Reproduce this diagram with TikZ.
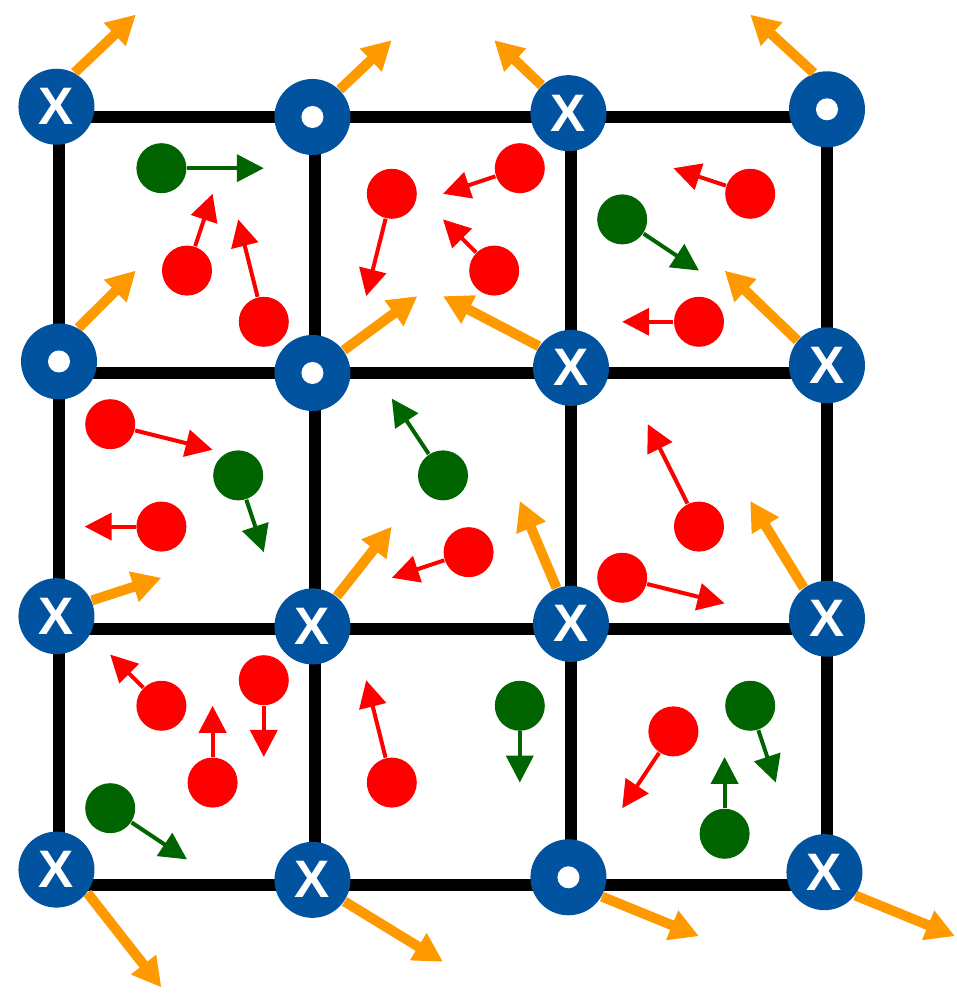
\documentclass[tikz,border=0pt]{standalone}
\usepackage{fontspec}
\setsansfont{Liberation Sans}
\usetikzlibrary{arrows.meta}
\definecolor{siteblue}{RGB}{2,83,159}
\definecolor{spinorange}{RGB}{255,153,0}
\definecolor{darkgreen}{RGB}{0,100,0}

\begin{document}
\begin{tikzpicture}[x=0.256cm, y=-0.256cm,
  site/.style={circle, fill=siteblue, minimum size=7.6mm, inner sep=0pt,
    text=white, font=\sffamily\fontsize{15}{15}\selectfont\bfseries},
  lattice/.style={line width=1.2mm},
  spin/.style={-{Triangle[length=2.9mm,width=3mm]}, spinorange, line width=1mm},
  ball/.style={circle, minimum size=5mm, inner sep=0pt},
  vel/.style={-{Triangle[length=2.7mm,width=2.7mm]}, line width=0.4mm}]
\useasboundingbox (-2.305,-4.570) rectangle (35.04,34.22);

% lattice
\foreach \k in {0,10,20,30} {
  \draw[lattice] (\k,0) -- (\k,30);
  \draw[lattice] (0,\k) -- (30,\k);
}

% sites and their spins (\a = where the spin leaves the site)
\foreach \n/\x/\y/\a/\tx/\ty/\s in {
    n00/-0.1/-0.4/62/3/-4/X, n10/9.9/0/45/13/-3/, n20/19.9/-0.15/134/17/-3/X, n30/30/-0.3/110/27/-4/,
    n01/0/9.55/60/3/6/, n11/9.9/10/36/14/7/, n21/20/9.8/146/15/7/X, n31/30/9.7/140/26/6/X,
    n02/-0.1/19.5/24/4/18/X, n12/9.9/19.9/51/13/16/X, n22/20/19.8/112/18/15/X, n32/30/19.6/127/27/15/X,
    n03/-0.1/29.4/-37/4/34/X, n13/9.9/29.8/-34/15/33/X, n23/19.9/29.7/-30/25/32/, n33/29.9/29.5/-37/35/32/X} {
  \node[site] (\n) at (\x,\y) {\s};
  \coordinate (\n t) at (\tx,\ty);
  \draw[spin] (\n.\a) -- (\n t);
}
\foreach \n in {n10,n30,n01,n11,n23}
  \fill[white] (\n) circle (1.1mm);

% particles
\foreach \n/\c/\x/\y/\tx/\ty in {
    p1/darkgreen/4/2/8/2, p2/red/5/6/6/3, p3/red/8/8/7/4,
    p4/red/13/3/12/7, p5/red/18/2/15/3, p6/red/17/6/15/4,
    p7/darkgreen/22/4/25/6, p8/red/27/3/24/2, p9/red/25/8/22/8,
    p10/red/2/12/6/13, p11/darkgreen/7/14/8/17, p12/red/4/16/1/16,
    p13/darkgreen/15/14/13/11, p14/red/16/17/13/18,
    p15/red/25/16/23/12, p16/red/22/18/26/19,
    p17/red/4/23/2/21, p18/red/8/22/8/25, p19/red/6/26/6/23, p20/darkgreen/2/27/5/29,
    p21/red/13/26/12/22, p22/darkgreen/18/23/18/26,
    p23/red/24/24/22/27, p24/darkgreen/27/23/28/26, p25/darkgreen/26/28/26/25} {
  \node[ball, fill=\c] (\n) at (\x,\y) {};
  \coordinate (\n t) at (\tx,\ty);
  \draw[vel, \c] (\n) -- (\n t);
}
\end{tikzpicture}
\end{document}
